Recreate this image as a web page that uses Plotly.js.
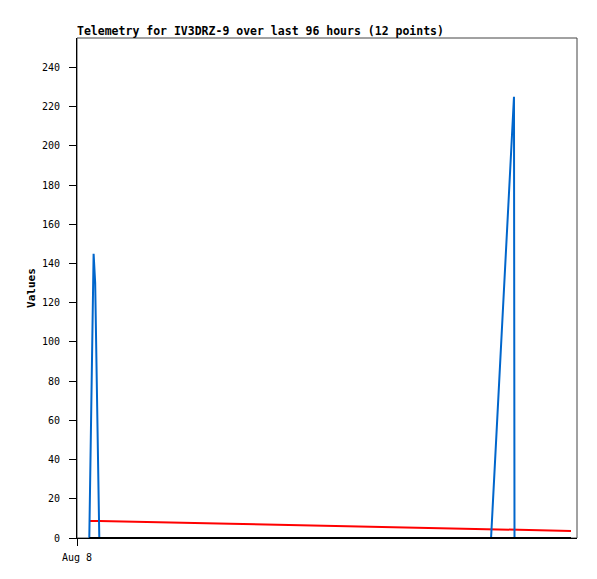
<!DOCTYPE html>
<html>
<head>
<meta charset="utf-8">
<script src="https://cdn.plot.ly/plotly-3.0.1.min.js"></script>
<style>html,body{margin:0;padding:0;background:#fff;}#chart{width:597px;height:579px;}</style>
</head>
<body>
<div id="chart"></div>
<script>
// Hours since Aug 8 00:00 (12 telemetry samples)
var hours = [2.36, 3.19, 3.49, 4.28, 29.4, 56.3, 79.5, 83.9, 84.0, 87.0, 90.8, 94.85];
var blueValues = [0, 145, 130, 0, 0, 0, 0, 225, 0, 0, 0, 0];
var redValues = [8.7, 8.69, 8.68, 8.65, 7.3, 5.9, 4.7, 4.55, 4.5, 4.3, 4.0, 3.6];
var blackValues = [0, 0, 0, 0, 0, 0, 0, 0, 0, 0, 0, 0];
var xTickVals = [0];
var xTickText = ["Aug 8"];
var chartTitle = "Telemetry for IV3DRZ-9 over last 96 hours (12 points)";
var yTitle = "Values";

var mono = "DejaVu Sans Mono, Liberation Mono, monospace";

var traces = [
  {x: hours, y: redValues, type: "scatter", mode: "lines", line: {color: "#ff0000", width: 2}, hoverinfo: "skip"},
  {x: hours, y: blueValues, type: "scatter", mode: "lines", line: {color: "#0066cc", width: 2}, hoverinfo: "skip"},
  {x: hours, y: blackValues, type: "scatter", mode: "lines", line: {color: "#000000", width: 2}, hoverinfo: "skip"}
];

var layout = {
  width: 597, height: 579,
  margin: {l: 77, r: 20, t: 38, b: 41, pad: 0},
  paper_bgcolor: "#ffffff", plot_bgcolor: "#ffffff",
  showlegend: false,
  font: {family: mono, size: 10, color: "#000"},
  title: {
    text: chartTitle,
    font: {family: mono, size: 11.5, color: "#000", weight: "bold"},
    x: 77/597, xref: "container", xanchor: "left",
    y: 1 - 31/579, yref: "container", yanchor: "middle"
  },
  xaxis: {
    range: [0, 96], fixedrange: true,
    tickmode: "array", tickvals: xTickVals, ticktext: xTickText,
    ticks: "outside", ticklen: 7, tickwidth: 1, tickcolor: "#000",
    ticklabelstandoff: 3,
    showline: true, linecolor: "#000", linewidth: 1,
    showgrid: false, zeroline: false,
    tickfont: {family: mono, size: 10, color: "#000"}
  },
  yaxis: {
    range: [0, 255], fixedrange: true,
    dtick: 20, tick0: 0,
    ticks: "outside", ticklen: 7, tickwidth: 1, tickcolor: "#000",
    ticklabelstandoff: 7,
    showline: true, linecolor: "#000", linewidth: 1,
    showgrid: false, zeroline: false,
    tickfont: {family: mono, size: 10, color: "#000"},
    title: {text: yTitle, font: {family: mono, size: 11, color: "#000", weight: "bold"}, standoff: 4}
  },
  shapes: [
    {type: "rect", xref: "paper", yref: "paper", x0: 0, x1: 1, y0: 0, y1: 1,
     line: {color: "#444444", width: 1}, layer: "below"}
  ]
};

Plotly.newPlot("chart", traces, layout, {displayModeBar: false, staticPlot: true});
</script>
</body>
</html>
